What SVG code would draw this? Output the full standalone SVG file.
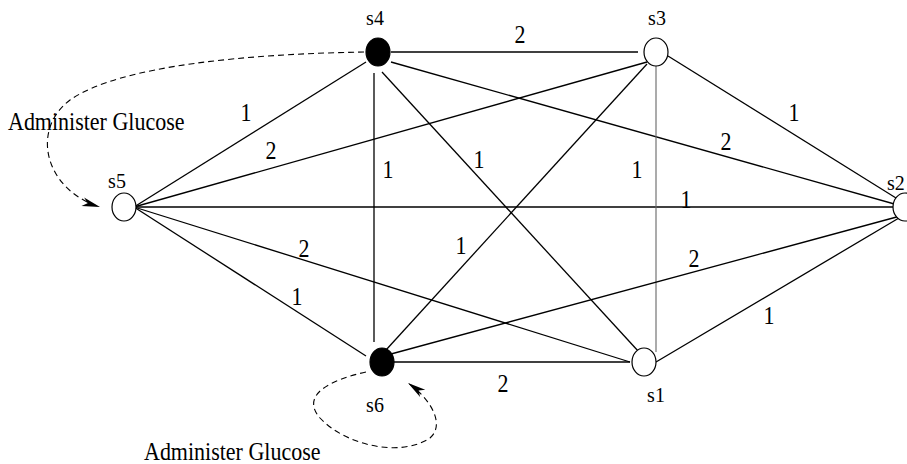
<svg xmlns="http://www.w3.org/2000/svg" width="907" height="464" viewBox="0 0 907 464">
<style>
.e{stroke:#000;stroke-width:1.3;fill:none}
.g{stroke:#666;stroke-width:1.1;fill:none}
.d{stroke:#000;stroke-width:1.1;fill:none;stroke-dasharray:6 4}
.open{fill:#fff;stroke:#000;stroke-width:1.2}
.fill{fill:#000;stroke:#000;stroke-width:1.2}
.n{font-family:"Liberation Serif","Times New Roman",serif;font-size:20px;text-anchor:middle;fill:#000}
.w{font-family:"Liberation Serif","Times New Roman",serif;font-size:22px;text-anchor:middle;fill:#000}
.a{font-family:"Liberation Serif","Times New Roman",serif;font-size:22px;fill:#000}
</style>
<defs>
<marker id="ah" viewBox="-19 -6 20 12" markerWidth="20" markerHeight="12" refX="0" refY="0" orient="auto" markerUnits="userSpaceOnUse">
<path d="M0,0 L-18,-4.5 L-13,0 L-18,4.5 Z" fill="#000"/>
</marker>
</defs>
<g id="connectors">
<line class="e" x1="391" y1="52" x2="638" y2="52"/>
<line class="e" x1="366" y1="62" x2="134" y2="207"/>
<line class="e" x1="647" y1="62" x2="134" y2="207"/>
<line class="e" x1="374" y1="73" x2="374" y2="342"/>
<line class="e" x1="382" y1="72" x2="639" y2="352"/>
<line class="e" x1="391" y1="62" x2="905" y2="207"/>
<line class="e" x1="134" y1="207" x2="905" y2="207"/>
<line class="g" x1="656" y1="66" x2="656" y2="352"/>
<line class="e" x1="647" y1="64" x2="386" y2="350"/>
<line class="e" x1="668" y1="56" x2="896" y2="198"/>
<line class="e" x1="134" y1="207" x2="630" y2="362"/>
<line class="e" x1="134" y1="207" x2="366" y2="356"/>
<line class="e" x1="391" y1="354" x2="904" y2="215"/>
<line class="e" x1="394" y1="362" x2="630" y2="362"/>
<line class="e" x1="656" y1="362" x2="904" y2="215"/>
<path class="d" d="M364 52 C250 54 120 65 70 100 C30 130 45 190 100 207" marker-end="url(#ah)"/>
<path class="d" d="M366 372 C330 380 300 395 320 418 C345 445 400 458 430 438 C445 425 432 400 408 383" marker-end="url(#ah)"/>
<g id="weights" font-family="Liberation Serif, serif">
<text class="w" transform="translate(520 43) scale(1 1.1)">2</text>
<text class="w" transform="translate(246 121) scale(1 1.1)">1</text>
<text class="w" transform="translate(271 159) scale(1 1.1)">2</text>
<text class="w" transform="translate(388 178) scale(1 1.1)">1</text>
<text class="w" transform="translate(479 168) scale(1 1.1)">1</text>
<text class="w" transform="translate(637 178) scale(1 1.1)">1</text>
<text class="w" transform="translate(726 150) scale(1 1.1)">2</text>
<text class="w" transform="translate(794 121) scale(1 1.1)">1</text>
<text class="w" transform="translate(686 208) scale(1 1.1)">1</text>
<text class="w" transform="translate(304 257) scale(1 1.1)">2</text>
<text class="w" transform="translate(297 305) scale(1 1.1)">1</text>
<text class="w" transform="translate(461 254) scale(1 1.1)">1</text>
<text class="w" transform="translate(694 267) scale(1 1.1)">2</text>
<text class="w" transform="translate(769 324) scale(1 1.1)">1</text>
<text class="w" transform="translate(503 392) scale(1 1.1)">2</text>
</g>
</g>
<g id="s4">
<ellipse class="fill" cx="378" cy="52" rx="12" ry="14"/>
<text class="n" transform="translate(375 25) scale(1 1.1)">s4</text>
</g>
<g id="s3">
<ellipse class="open" cx="656" cy="52" rx="12" ry="14"/>
<text class="n" transform="translate(657 25) scale(1 1.1)">s3</text>
</g>
<g id="s5">
<ellipse class="open" cx="124" cy="207" rx="12" ry="14"/>
<text class="n" transform="translate(117 188) scale(1 1.1)">s5</text>
</g>
<g id="s2">
<ellipse class="open" cx="905" cy="207" rx="12" ry="14"/>
<text class="n" style="text-anchor:start" transform="translate(887 190) scale(1 1.1)">s2</text>
</g>
<g id="s6">
<ellipse class="fill" cx="382" cy="362" rx="12" ry="14"/>
<text class="n" transform="translate(375 412) scale(1 1.1)">s6</text>
</g>
<g id="s1">
<ellipse class="open" cx="644" cy="362" rx="12" ry="14"/>
<text class="n" transform="translate(656 402) scale(1 1.1)">s1</text>
</g>
<g id="labels">
<text class="a" transform="translate(8 130) scale(1 1.1)">Administer Glucose</text>
<text class="a" transform="translate(144 460) scale(1 1.1)">Administer Glucose</text>
</g>
</svg>
